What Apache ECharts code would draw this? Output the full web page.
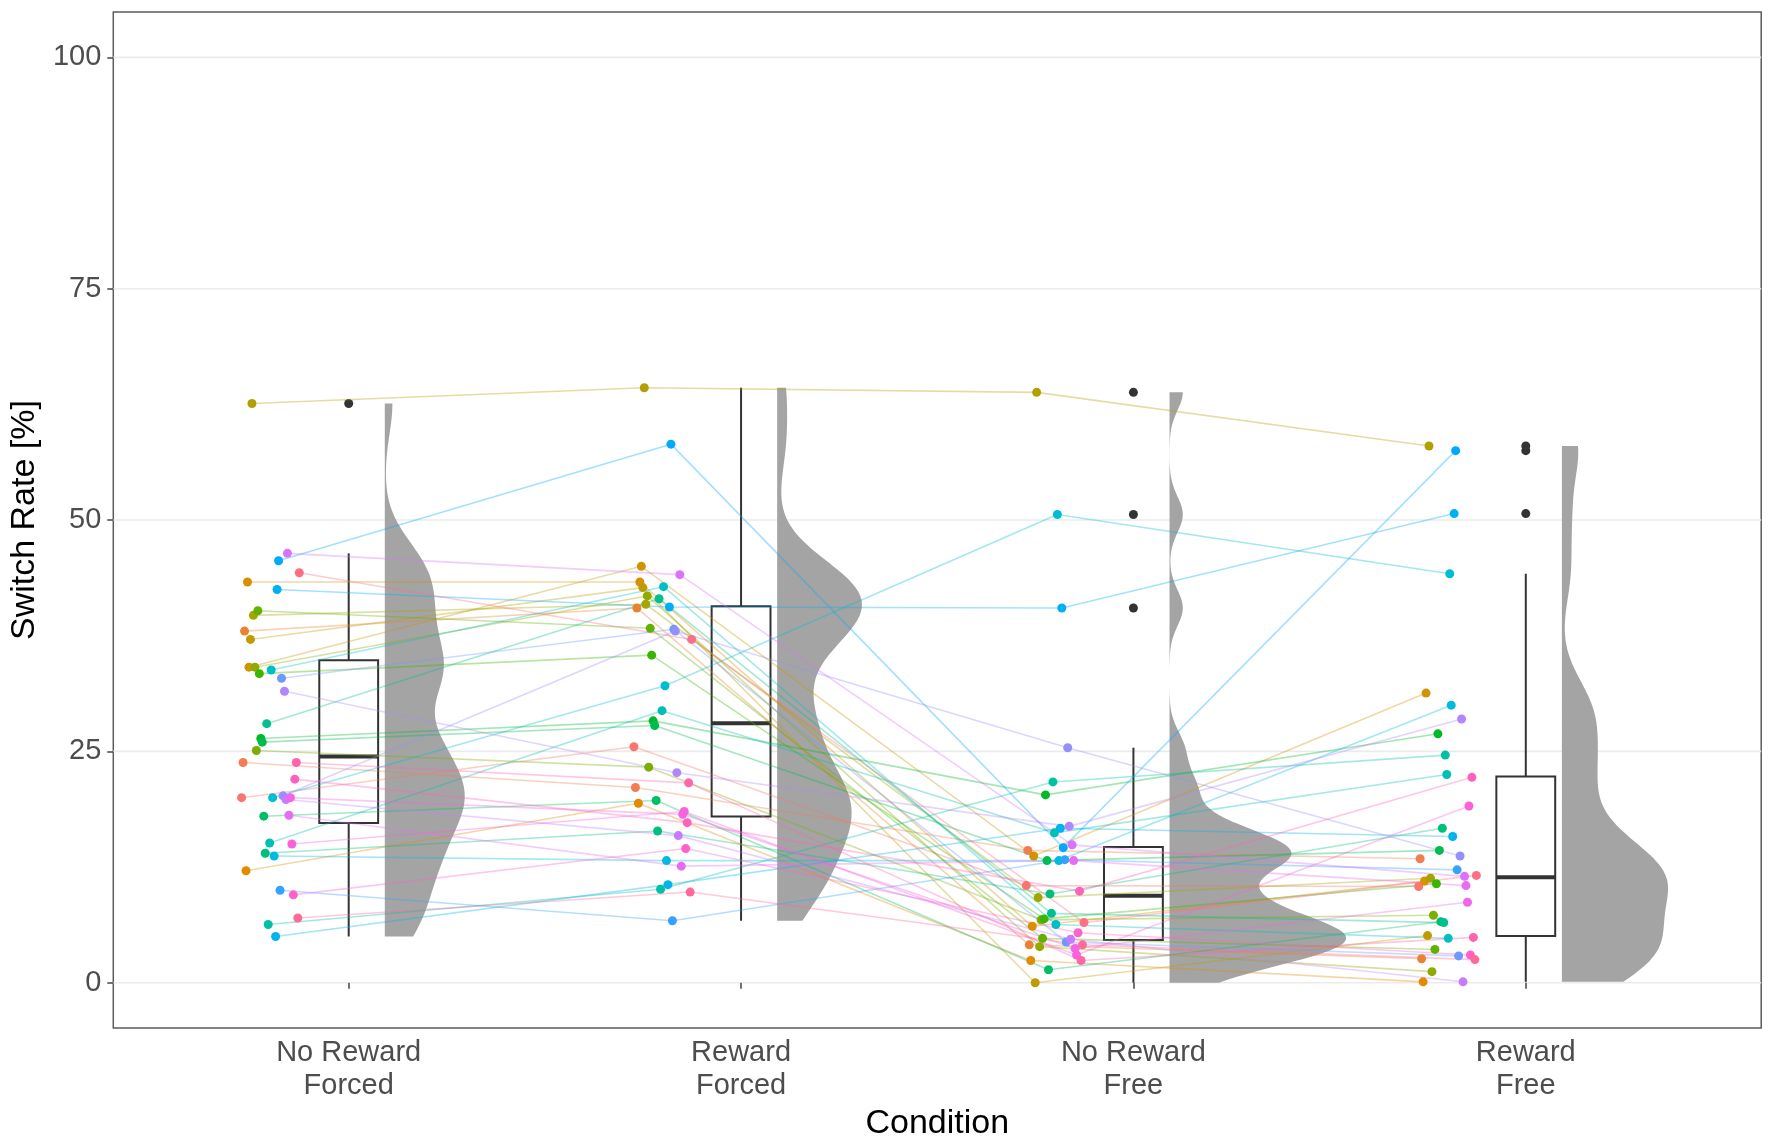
<!DOCTYPE html>
<html><head><meta charset="utf-8">
<script src="https://cdn.jsdelivr.net/npm/echarts@6/dist/echarts.min.js"></script>
<style>html,body{margin:0;padding:0;background:#fff}#c{width:1770px;height:1146px}</style>
</head><body><div id="c"></div>
<script>
// ---- data (one value per participant, participants in the same order in every condition) ----
const conditions = ['No Reward\nForced', 'Reward\nForced', 'No Reward\nFree', 'Reward\nFree'];
const yTicks = [0, 25, 50, 75, 100];
const noRewardForced = [20.0, 23.8, 38.0, 12.1, 43.3, 34.1, 37.1, 62.6, 39.7, 34.1, 25.1, 40.2, 33.4, 26.4, 26.0, 18.0, 14.0, 28.0, 6.3, 15.1, 33.8, 20.0, 13.7, 5.0, 42.5, 45.6, 10.0, 32.9, 20.2, 31.5, 19.8, 46.4, 18.1, 20.0, 15.0, 9.5, 22.0, 23.8, 7.0, 44.3];
const rewardForced   = [25.5, 21.1, 40.5, 19.4, 43.3, 45.0, 42.7, 64.3, 40.9, 41.8, 23.3, 38.3, 35.4, 28.3, 27.8, 19.7, 16.4, 41.5, 10.1, 29.4, 42.8, 32.1, 13.2, 10.6, 40.6, 58.2, 6.7, 38.2, 38.0, 22.7, 15.9, 44.1, 12.6, 18.2, 18.5, 14.5, 17.3, 21.6, 9.8, 37.1];
const noRewardFree   = [10.5, 14.3, 4.1, 2.4, 6.1, 13.7, 0.0, 63.8, 9.2, 3.9, 6.8, 4.8, 6.9, 20.3, 13.2, 1.4, 9.6, 7.5, 21.7, 16.2, 6.3, 50.6, 13.2, 16.7, 40.5, 14.6, 13.3, 4.4, 25.4, 16.9, 4.7, 14.9, 13.2, 3.7, 3.0, 5.4, 9.9, 2.4, 4.1, 6.5];
const rewardFree     = [10.4, 13.4, 2.6, 0.1, 11.0, 31.3, 5.1, 58.0, 11.3, 1.2, 7.3, 3.6, 10.7, 26.9, 14.3, 6.6, 16.7, 6.5, 24.6, 22.5, 4.8, 44.2, 30.0, 15.8, 50.7, 57.5, 12.2, 2.9, 13.7, 28.5, 0.1, 11.5, 10.5, 8.7, 19.1, 3.0, 22.2, 4.9, 2.5, 11.6];

const groups = [noRewardForced, rewardForced, noRewardFree, rewardFree];
const N = noRewardForced.length;
const FONT = "'Liberation Sans', Arial, sans-serif";
const BW_ADJUST = 0.6;

// ---- ggplot-like hue palette ----
function hcl(h, c, l) {
  const hr = h * Math.PI / 180;
  const U = c * Math.cos(hr), V = c * Math.sin(hr);
  const Xn = 95.047, Yn = 100.0, Zn = 108.883;
  const Y = l > 8 ? Yn * Math.pow((l + 16) / 116, 3) : Yn * l / 903.3;
  const den = Xn + 15 * Yn + 3 * Zn;
  const un = 4 * Xn / den, vn = 9 * Yn / den;
  const u = U / (13 * l) + un, v = V / (13 * l) + vn;
  const X = 9 * Y * u / (4 * v);
  const Z = Y * (12 - 3 * u - 20 * v) / (4 * v);
  const x = X / 100, y = Y / 100, z = Z / 100;
  let rgb = [
    3.240479 * x - 1.537150 * y - 0.498535 * z,
   -0.969256 * x + 1.875992 * y + 0.041556 * z,
    0.055648 * x - 0.204043 * y + 1.057311 * z
  ];
  rgb = rgb.map(t => {
    t = t <= 0.0031308 ? 12.92 * t : 1.055 * Math.pow(t, 1 / 2.4) - 0.055;
    t = Math.max(0, Math.min(1, t));
    return Math.round(t * 255);
  });
  return 'rgb(' + rgb.join(',') + ')';
}
const colors = [];
for (let i = 0; i < N; i++) colors.push(hcl(15 + 360 * i / N, 100, 65));

// participant-wise horizontal offset (points drawn left of each box)
function offset(i) { return -0.273 + 0.147 * i / (N - 1); }

// ---- stats ----
function quantile(sorted, p) {
  const h = (sorted.length - 1) * p;
  const lo = Math.floor(h), hi = Math.ceil(h);
  return sorted[lo] + (h - lo) * (sorted[hi] - sorted[lo]);
}
function boxStats(vals) {
  const s = vals.slice().sort((a, b) => a - b);
  const q1 = quantile(s, 0.25), med = quantile(s, 0.5), q3 = quantile(s, 0.75);
  const iqr = q3 - q1;
  const inside = s.filter(v => v >= q1 - 1.5 * iqr && v <= q3 + 1.5 * iqr);
  const outl = s.filter(v => v < q1 - 1.5 * iqr || v > q3 + 1.5 * iqr);
  return { q1, med, q3, lo: inside[0], hi: inside[inside.length - 1], outl };
}
function density(vals) {
  const s = vals.slice().sort((a, b) => a - b);
  const n = s.length;
  const mean = s.reduce((a, b) => a + b, 0) / n;
  const sd = Math.sqrt(s.reduce((a, b) => a + (b - mean) * (b - mean), 0) / (n - 1));
  const iqr = quantile(s, 0.75) - quantile(s, 0.25);
  const lo = Math.min(sd, iqr / 1.34);
  const bw = BW_ADJUST * 0.9 * lo * Math.pow(n, -0.2);
  const pts = [];
  const m = 300, a = s[0], b = s[n - 1];
  for (let k = 0; k <= m; k++) {
    const y = a + (b - a) * k / m;
    let d = 0;
    for (const v of s) { const z = (y - v) / bw; d += Math.exp(-0.5 * z * z); }
    d /= (n * bw * Math.sqrt(2 * Math.PI));
    pts.push([y, d]);
  }
  return pts;
}
const stats = groups.map(boxStats);
const dens = groups.map(density);
const maxD = Math.max(...dens.map(p => Math.max(...p.map(q => q[1]))));

// ---- series ----
const series = [];
// grid lines
series.push({
  type: 'custom', z: 0, silent: true, animation: false,
  data: yTicks.map(v => [v]),
  renderItem: (params, api) => {
    const y = api.value(0);
    const p1 = api.coord([0.4, y]), p2 = api.coord([4.6, y]);
    return { type: 'line', shape: { x1: p1[0], y1: p1[1], x2: p2[0], y2: p2[1] },
             style: { stroke: '#EBEBEB', lineWidth: 1.6 } };
  }
});
// half violins
series.push({
  type: 'custom', z: 1, silent: true, animation: false,
  data: [[1], [2], [3], [4]],
  renderItem: (params, api) => {
    const k = api.value(0);
    const d = dens[k - 1];
    const x0 = k + 0.092;
    const pts = [api.coord([x0, d[0][0]])];
    for (const [y, v] of d) pts.push(api.coord([x0 + 0.45 * v / maxD, y]));
    pts.push(api.coord([x0, d[d.length - 1][0]]));
    return { type: 'polygon', shape: { points: pts }, style: { fill: '#A4A4A4', stroke: null } };
  }
});
// boxplots
series.push({
  type: 'custom', z: 2, silent: true, animation: false,
  data: stats.map((s, i) => [i + 1, s.lo, s.q1, s.med, s.q3, s.hi]),
  renderItem: (params, api) => {
    const k = api.value(0);
    const lo = api.value(1), q1 = api.value(2), med = api.value(3), q3 = api.value(4), hi = api.value(5);
    const w = 0.075;
    const c = (x, y) => api.coord([x, y]);
    const ln = (a, b, lw) => ({ type: 'line', shape: { x1: a[0], y1: a[1], x2: b[0], y2: b[1] },
                                 style: { stroke: '#333333', lineWidth: lw } });
    const tl = c(k - w, q3), br = c(k + w, q1);
    return { type: 'group', children: [
      ln(c(k, q3), c(k, hi), 2),
      ln(c(k, q1), c(k, lo), 2),
      { type: 'rect', shape: { x: tl[0], y: tl[1], width: br[0] - tl[0], height: br[1] - tl[1] },
        style: { fill: '#ffffff', stroke: '#333333', lineWidth: 2 } },
      ln(c(k - w, med), c(k + w, med), 4)
    ] };
  }
});
// outliers
const outData = [];
stats.forEach((s, i) => s.outl.forEach(v => outData.push([i + 1, v])));
series.push({ type: 'scatter', z: 2, silent: true, animation: false, symbolSize: 9,
  itemStyle: { color: '#333333', opacity: 1 }, data: outData });
// participant lines
for (let i = 0; i < N; i++) {
  series.push({
    type: 'line', z: 3, silent: true, animation: false, symbol: 'none',
    lineStyle: { color: colors[i], width: 1.6, opacity: 0.36 },
    data: groups.map((g, k) => [k + 1 + offset(i), g[i]])
  });
}
// participant points
const ptData = [];
groups.forEach((g, k) => g.forEach((v, i) => ptData.push({ value: [k + 1 + offset(i), v], itemStyle: { color: colors[i] } })));
series.push({ type: 'scatter', z: 4, silent: true, animation: false, symbolSize: 9,
  itemStyle: { opacity: 1 }, data: ptData });

const chart = echarts.init(document.getElementById('c'), null, { renderer: 'canvas' });
chart.setOption({
  backgroundColor: '#ffffff',
  animation: false,
  grid: { left: 110.7, top: 12, width: 1650.5, height: 1016.7, show: true,
          borderColor: '#5c5c5c', borderWidth: 1.5, backgroundColor: 'transparent' },
  xAxis: {
    type: 'value', min: 0.4, max: 4.6,
    name: 'Condition', nameLocation: 'middle', nameGap: 72,
    nameTextStyle: { fontSize: 34, color: '#000', fontFamily: FONT },
    axisLine: { show: false },
    splitLine: { show: false },
    axisTick: { show: true, customValues: [1, 2, 3, 4], length: 6, lineStyle: { color: '#444', width: 1.5 } },
    axisLabel: { customValues: [1, 2, 3, 4], formatter: v => conditions[Math.round(v) - 1],
                 fontSize: 29, lineHeight: 33, color: '#4D4D4D', fontFamily: FONT, margin: 8 }
  },
  yAxis: {
    type: 'value', min: -4.9, max: 104.9,
    name: 'Switch Rate [%]', nameLocation: 'middle', nameGap: 66,
    nameTextStyle: { fontSize: 34, color: '#000', fontFamily: FONT },
    axisLine: { show: false },
    splitLine: { show: false },
    axisTick: { show: true, customValues: yTicks, length: 6, lineStyle: { color: '#444', width: 1.5 } },
    axisLabel: { customValues: yTicks, fontSize: 29, color: '#4D4D4D', fontFamily: FONT, margin: 12 }
  },
  series: series
});
</script>
</body></html>
